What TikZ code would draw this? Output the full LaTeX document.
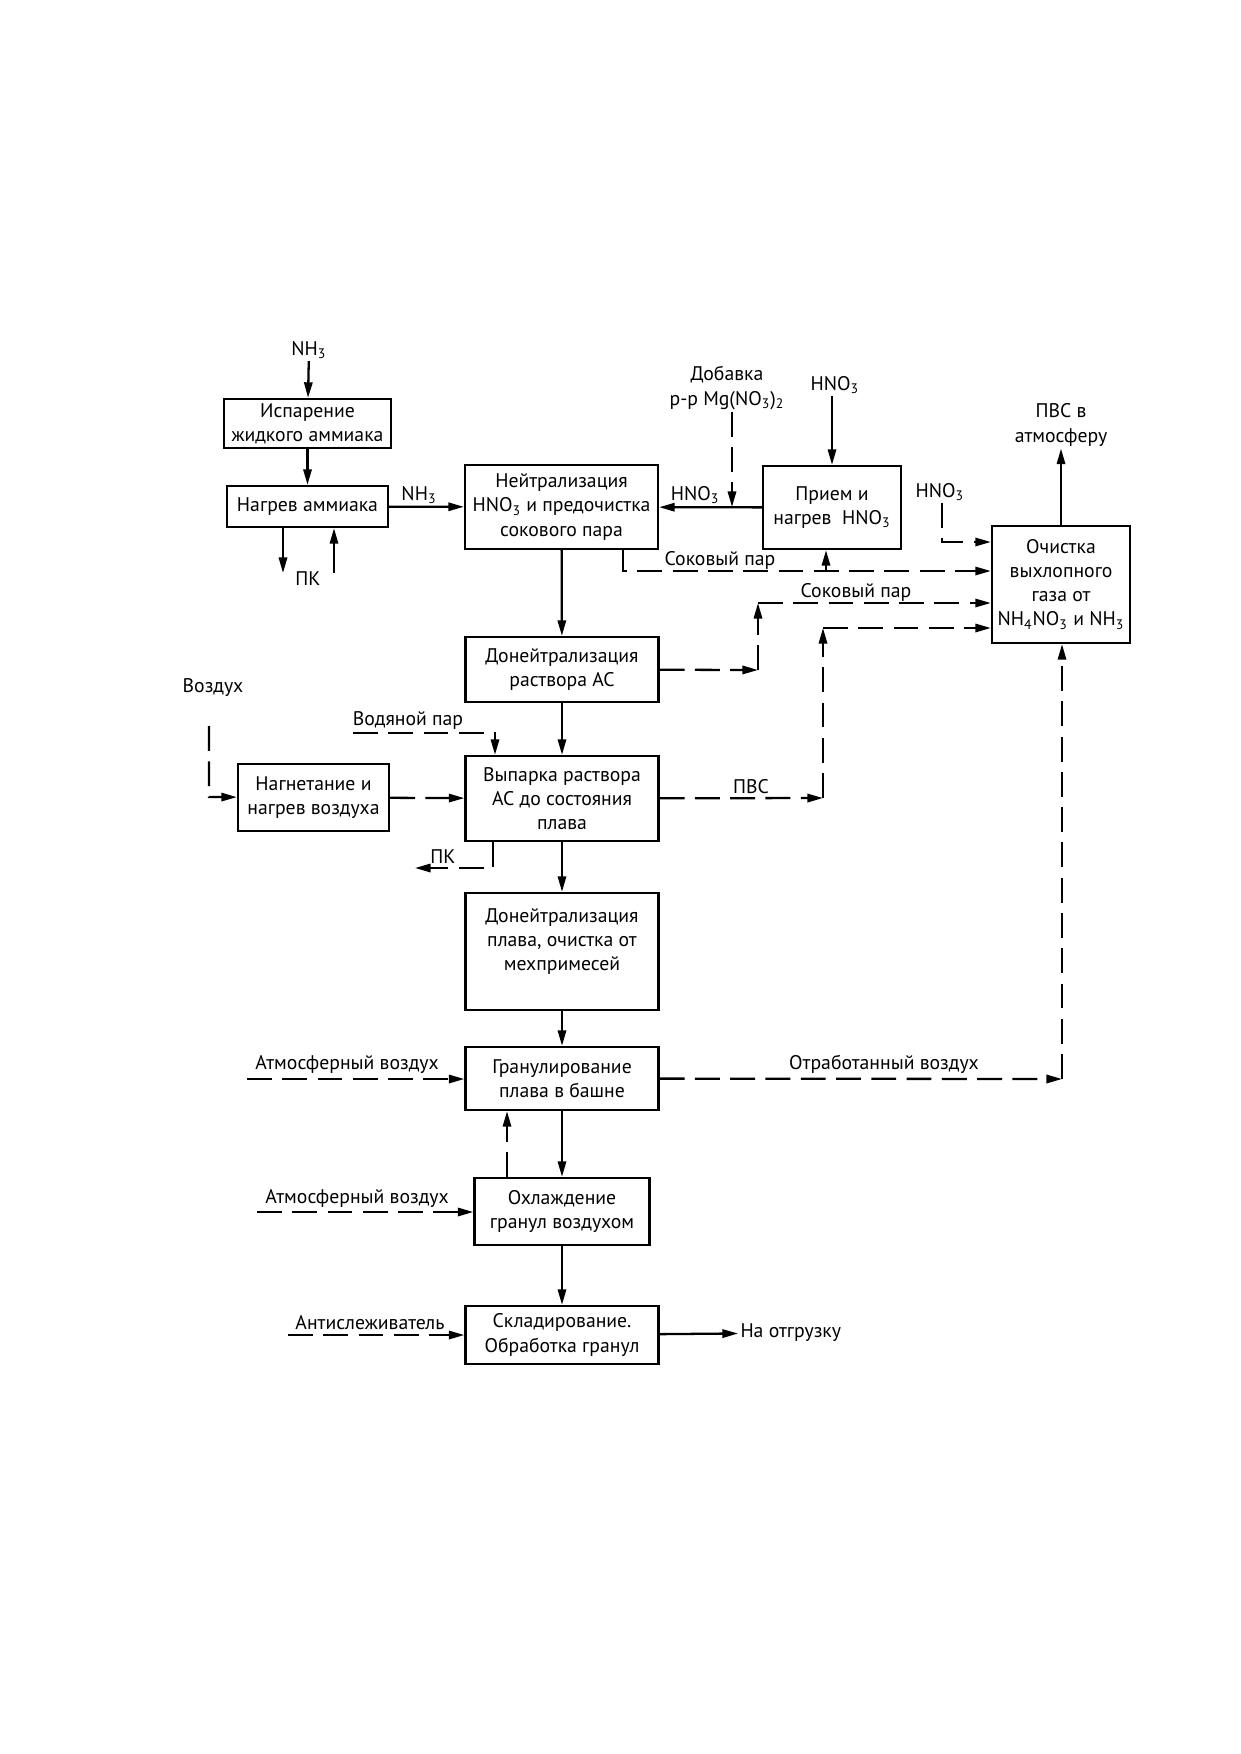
\documentclass[tikz,border=0pt]{standalone}
\usepackage{fontspec}
\setmainfont{PT Sans}
\usepackage{tikz}
\usetikzlibrary{positioning,arrows.meta,calc}

\begin{document}
\begin{tikzpicture}[x=0.016935cm,y=-0.016935cm,
   >={Triangle[length=7.5pt,width=4pt]},
   blk/.style={draw,line width=1.1pt,align=center,inner sep=1pt,font=\fontsize{9.5}{11.6}\selectfont},
   sz/.style 2 args={minimum width=#1*0.016935cm,minimum height=#2*0.016935cm},
   lbl/.style={inner sep=1pt,align=center,font=\fontsize{9.5}{11.6}\selectfont},
   pipe/.style={draw,line width=1.1pt},
   gas/.style={pipe,dash pattern=on 12pt off 5pt}]
 \useasboundingbox (0,0) rectangle (1240,1754);
 % process blocks, positions in px of the sheet (y downwards)
 \node[blk,sz={167}{49}] (isp) at (307.5,423.5) {Испарение\\жидкого аммиака};
 \node[blk,sz={161}{41}] (heatNH) at (307.5,506.5) {Нагрев аммиака};
 \node[blk,sz={193}{84}] (neut) at (561.5,507) {Нейтрализация\\HNO\textsubscript{3} и предочистка\\сокового пара};
 \node[blk,sz={138}{83}] (acid) at (832,507.5) {Прием и\\нагрев~ HNO\textsubscript{3}};
 \node[blk,sz={138}{117}] (gasCl) at (1061,584.5) {Очистка\\выхлопного\\газа от\\NH\textsubscript{4}NO\textsubscript{3} и NH\textsubscript{3}};
 \node[blk,sz={193}{65}] (donAC) at (562,669.5) {Донейтрализация\\раствора АС};
 \node[blk,sz={151}{67}] (blow) at (313.5,797.5) {Нагнетание и\\нагрев воздуха};
 \node[blk,sz={193}{85}] (evap) at (562,798.5) {Выпарка раствора\\АС до состояния\\плава};
 \node[blk,sz={193}{117}] (donMelt) at (562,951.5) {Донейтрализация\\плава, очистка от\\мехпримесей\\~};
 \node[blk,sz={193}{63}] (gran) at (562,1078.5) {Гранулирование\\плава в башне};
 \node[blk,sz={175}{67}] (cool) at (562,1211.5) {Охлаждение\\гранул воздухом};
 \node[blk,sz={193}{58}] (store) at (562,1335) {Складирование.\\Обработка гранул};
 % main product line
 \foreach \a/\b in {neut/donAC,donAC/evap,evap/donMelt,donMelt/gran,gran/cool,cool/store}
   \draw[pipe,->] (\a) -- (\b);
 % ammonia
 \node[lbl] (nhIn) at (309,350) {NH\textsubscript{3}};
 \draw[pipe,->] (nhIn) -- (isp);
 \draw[pipe,->] (isp) -- (heatNH);
 \draw[pipe,->] (heatNH) -- node[lbl,above,pos=0.4] (nhMid) {NH\textsubscript{3}} (neut);
 \node[lbl] (pk1) at (308,579) {ПК};
 \coordinate (pkA) at (283,573);
 \coordinate (pkB) at (334,573);
 \draw[pipe,->] (heatNH.south -| pkA) -- (pkA);
 \draw[pipe,->] (pkB) -- (heatNH.south -| pkB);
 % nitric acid
 \draw[pipe,->] (acid) -- node[lbl,above,pos=0.65] (hnoMid) {HNO\textsubscript{3}} (neut);
 \node[lbl] (addMg) at (727,388) {Добавка\\р-р Mg(NO\textsubscript{3})\textsubscript{2}};
 \coordinate (addEnd) at (732,507);
 \draw[gas,->] (addMg.south -| addEnd) -- (addEnd);
 \node[lbl] (hnoIn) at (835,385) {HNO\textsubscript{3}};
 \draw[pipe,->] (hnoIn.south -| acid) -- (acid);
 % juice steam and gases to the cleaning block
 \coordinate (j1) at (623,571);
 \coordinate (j1p) at (826,571);
 \draw[gas,->] (neut.south -| j1) -- (j1) -- (j1 -| gasCl.west);
 \draw[pipe,->] (j1p) -- (j1p |- acid.south);
 \node[lbl] (juice1) at (720,560) {Соковый пар};
 \node[lbl] (hnoB) at (940,492) {HNO\textsubscript{3}};
 \coordinate (hb) at (942,542);
 \draw[gas,->] (hnoB.south -| hb) -- (hb) -- (hb -| gasCl.west);
 \coordinate (j2a) at (758,670);
 \coordinate (j2b) at (758,603);
 \draw[gas,->] (donAC) -- (j2a);
 \draw[gas,->] (j2a) -- (j2b);
 \draw[gas,->] (j2b) -- (j2b -| gasCl.west);
 \node[lbl] (juice2) at (856,592) {Соковый пар};
 \coordinate (v1) at (823,798);
 \coordinate (v2) at (823,628);
 \draw[gas,->] (evap) -- (v1);
 \draw[gas,->] (v1) -- (v2);
 \draw[gas,->] (v2) -- (v2 -| gasCl.west);
 \node[lbl] (pvs) at (751,787) {ПВС};
 \node[lbl] (atmOut) at (1061,425) {ПВС в\\атмосферу};
 \draw[pipe,->] (gasCl) -- (atmOut);
 % air and steam to evaporation
 \node[lbl] (air) at (213,688) {Воздух};
 \coordinate (a1) at (209,726);
 \coordinate (a2) at (209,797);
 \draw[gas,->] (a1) -- (a2) -- (blow);
 \draw[gas,->] (blow) -- (evap);
 \node[lbl] (steam) at (408,720) {Водяной пар};
 \coordinate (s1) at (353,733);
 \coordinate (s2) at (495,733);
 \draw[gas,->] (s1) -- (s2) -- (s2 |- evap.north);
 \coordinate (pk2a) at (493,868);
 \coordinate (pk2b) at (415,868);
 \draw[gas,->] (evap.south -| pk2a) -- (pk2a) -- (pk2b);
 \node[lbl] (pk2) at (443,857) {ПК};
 % granulation and cooling air
 \coordinate (w1) at (1062,1079);
 \draw[gas,->] (gran) -- (w1);
 \draw[gas,->] (w1) -- (w1 |- gasCl.south);
 \node[lbl] (usedAir) at (884,1064) {Отработанный воздух};
 \coordinate (atm1) at (247,1079);
 \draw[gas,->] (atm1) -- (atm1 -| gran.west);
 \node[lbl] (atmAir1) at (347,1064) {Атмосферный воздух};
 \coordinate (cg) at (507,0);
 \draw[gas,->] (cg |- cool.north) -- (cg |- gran.south);
 \coordinate (atm2) at (257,1212);
 \draw[gas,->] (atm2) -- (atm2 -| cool.west);
 \node[lbl] (atmAir2) at (357,1198) {Атмосферный воздух};
 \coordinate (anti) at (288,1335);
 \draw[gas,->] (anti) -- (anti -| store.west);
 \node[lbl] (antiLbl) at (370,1323) {Антислеживатель};
 \node[lbl,anchor=west] (ship) at (738,1333) {На отгрузку};
 \draw[pipe,->] (store) -- (ship);
\end{tikzpicture}
\end{document}
